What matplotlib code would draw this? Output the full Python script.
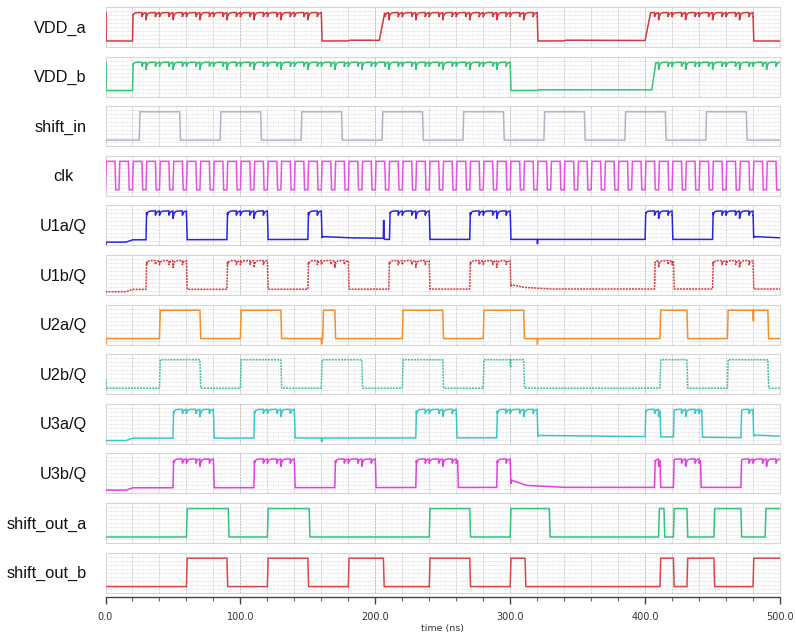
import numpy as np
import matplotlib
matplotlib.use("Agg")
import matplotlib.pyplot as plt

T_END = 500.0

labels = ["VDD_a", "VDD_b", "shift_in", "clk", "U1a/Q", "U1b/Q", "U2a/Q",
          "U2b/Q", "U3a/Q", "U3b/Q", "shift_out_a", "shift_out_b"]
colors = ["#d8373c", "#33c47a", "#aeb6c6", "#e552e0", "#2626e0", "#d8373c",
          "#f3902c", "#3cc48c", "#3ac8c6", "#e23fe0", "#33c47a", "#d8474a"]
dotted = [False, False, False, False, False, True, False, True, False, False, False, False]

# ---- transition times (ns) ----
vdd_a_rise = [20, 203, 400]
vdd_a_fall = [160, 320, 480]
vdd_b_rise = [20, 405]
vdd_b_fall = [300]
shift_in_rise = [25, 85, 145, 205, 265, 325, 385, 445]
shift_in_fall = [55, 115, 175, 235, 295, 355, 415, 475]
clk_rise = [0, 10, 20, 30, 40, 50, 60, 70, 80, 90, 100, 110, 120, 130, 140, 150,
            160, 170, 180, 190, 200, 210, 220, 230, 240, 250, 260, 270, 280, 290,
            300, 310, 320, 330, 340, 350, 360, 370, 380, 390, 400, 410, 420, 430,
            440, 450, 460, 470, 480, 490]
clk_fall = [7, 17, 27, 37, 47, 57, 67, 77, 87, 97, 107, 117, 127, 137, 147, 157,
            167, 177, 187, 197, 207, 217, 227, 237, 247, 257, 267, 277, 287, 297,
            307, 317, 327, 337, 347, 357, 367, 377, 387, 397, 407, 417, 427, 437,
            447, 457, 467, 477, 487, 497]
u1a_rise = [30, 90, 150, 210.5, 270, 400, 450]
u1a_fall = [60, 120, 160, 240, 300, 420, 480]
u1b_rise = [30, 90, 150, 210, 270, 407, 450]
u1b_fall = [60, 120, 180, 240, 300, 421, 480]
u2a_rise = [40, 100, 161, 220, 280, 411, 461]
u2a_fall = [70, 130, 170, 250, 310, 431, 491]
u2b_rise = [40, 100, 160, 220, 280, 411, 461]
u2b_fall = [70, 130, 190, 250, 310, 431, 491]
u3a_rise = [50, 110, 230, 290, 400, 421, 471]
u3a_fall = [80, 140, 260, 320, 411, 442, 480]
u3b_rise = [50, 110, 170, 230, 290, 407, 421, 471]
u3b_fall = [80, 140, 200, 261, 300, 411, 441]
out_a_rise = [60, 120, 240, 300, 410, 421, 451, 489]
out_a_fall = [91, 151, 270, 329, 414, 431, 471]
out_b_rise = [60, 120, 180, 240, 300, 411, 431, 480]
out_b_fall = [90, 150, 206, 270, 311, 421, 451]

# slow low-level drifts (time, level) and glitches (time, level)
u1a_low = [(0, 0.08), (15, 0.08), (20, 0.14), (160, 0.15), (161, 0.22), (180, 0.19), (206, 0.18),
           (207, 0.15), (480, 0.15), (481, 0.22), (500, 0.19)]
u1b_low = [(0, 0.08), (15, 0.08), (20, 0.14), (300, 0.15), (301, 0.26), (310, 0.19), (330, 0.15), (500, 0.15)]
u3a_low = [(0, 0.08), (15, 0.08), (20, 0.14), (320, 0.15), (321, 0.21), (400, 0.18), (480, 0.15),
           (481, 0.22), (500, 0.19)]
u3b_low = [(0, 0.08), (15, 0.08), (20, 0.14), (300, 0.15), (301, 0.33), (312, 0.2), (340, 0.15), (500, 0.15)]
vdd_a_low = [(0, 0.15), (180, 0.15), (181, 0.17), (320, 0.15), (340, 0.15), (341, 0.17), (480, 0.15), (500, 0.15)]
vdd_b_low = [(0, 0.15), (320, 0.15), (321, 0.17), (500, 0.17)]
vdd_a_spikes = [(0, 0.86)]
vdd_b_spikes = [(0, 0.86)]
u1a_spikes = [(0, 0.02), (206, 0.62), (320, 0.05)]
u2a_spikes = [(0, 0.02), (160, 0.02), (320, 0.02), (480, 0.6)]
u2b_spikes = [(0, 0.36), (300, 0.68)]
u3a_spikes = [(160, 0.06)]
vdd_a_ramp = [0.5, 4, 4]
vdd_b_ramp = [0.5, 3]

t = np.linspace(0, T_END, 20001)


def state(rise, fall, rise_w=None, fall_w=0.5):
    if rise_w is None:
        rise_w = [0.5] * len(rise)
    ev = sorted([(r, 1, w) for r, w in zip(rise, rise_w)] + [(f, 0, fall_w) for f in fall])
    cur = 0
    xs, ys = [0.0], [0.0]
    for tt, s, w in ev:
        xs += [tt, tt + w]
        ys += [cur, s]
        cur = s
    xs.append(T_END + 1)
    ys.append(cur)
    return np.interp(t, xs, ys)


def wave(rise, fall, low=None, hi=0.86, spikes=(), rise_w=None, dips=None, dip_depth=0.0):
    s = state(rise, fall, rise_w)
    if low is None:
        lo = np.full_like(t, 0.15)
    else:
        lo = np.interp(t, [p[0] for p in low], [p[1] for p in low])
    v = lo + s * (hi - lo)
    if dips is not None and dip_depth > 0:
        for k, d in enumerate(dips):
            m = (t >= d) & (t < d + 4.0) & (s > 0.99)
            depth = dip_depth * (1.7 if k % 4 == 2 else 1.0)
            v[m] -= depth * np.exp(-(t[m] - d) / 0.8)
    for ts, lv in spikes:
        m = (t >= ts) & (t <= ts + 0.4)
        v[m] = lv
    return v


clk_edges = sorted(clk_rise + clk_fall)
signals = [
    wave(vdd_a_rise, vdd_a_fall, vdd_a_low, spikes=vdd_a_spikes, rise_w=vdd_a_ramp, dips=clk_edges, dip_depth=0.11),
    wave(vdd_b_rise, vdd_b_fall, vdd_b_low, spikes=vdd_b_spikes, rise_w=vdd_b_ramp, dips=clk_edges, dip_depth=0.11),
    wave(shift_in_rise, shift_in_fall),
    wave(clk_rise, clk_fall),
    wave(u1a_rise, u1a_fall, u1a_low, spikes=u1a_spikes, dips=clk_edges, dip_depth=0.11),
    wave(u1b_rise, u1b_fall, u1b_low, dips=clk_edges, dip_depth=0.10),
    wave(u2a_rise, u2a_fall, spikes=u2a_spikes),
    wave(u2b_rise, u2b_fall, spikes=u2b_spikes),
    wave(u3a_rise, u3a_fall, u3a_low, spikes=u3a_spikes, dips=clk_edges, dip_depth=0.11),
    wave(u3b_rise, u3b_fall, u3b_low, dips=clk_edges, dip_depth=0.11),
    wave(out_a_rise, out_a_fall),
    wave(out_b_rise, out_b_fall),
]

W, H = 796, 638
fig = plt.figure(figsize=(W / 100, H / 100), dpi=100)
x0, x1 = 105.5, 780.0
top0, pitch, ph = 7.0, 49.6, 40.0

for i, (lab, col, v) in enumerate(zip(labels, colors, signals)):
    top = top0 + pitch * i
    ax = fig.add_axes([x0 / W, 1 - (top + ph) / H, (x1 - x0) / W, ph / H])
    ax.set_xlim(0, T_END)
    ax.set_ylim(0, 1)
    for yy in np.linspace(0, 1, 11)[1:-1]:
        ax.axhline(yy, color="#d9d9d9", lw=0.6, ls=(0, (1, 1)), zorder=0)
    for xx in np.arange(4, 500, 4):
        ax.axvline(xx, color="#ececec", lw=0.5, ls=(0, (1, 1.5)), zorder=0)
    for xx in np.arange(20, 500, 20):
        c = "#bdbdbd" if xx % 100 == 0 else "#d3d3d3"
        ax.axvline(xx, color=c, lw=0.7, ls=(0, (2, 1)), zorder=0)
    ls = (0, (1.3, 0.7)) if dotted[i] else "-"
    ax.plot(t, v, color=col, lw=1.1, ls=ls, zorder=3, solid_joinstyle="miter")
    ax.set_xticks([])
    ax.set_yticks([])
    for sp in ax.spines.values():
        sp.set_color("#d6d6d6")
        sp.set_linewidth(0.8)
    ax.spines["top"].set_linestyle((0, (1, 1)))
    ax.spines["bottom"].set_linestyle((0, (1, 1)))
    ymid = 1 - (top + ph / 2 + 1) / H
    if lab == "clk":
        fig.text(63 / W, ymid, lab, ha="center", va="center", fontsize=11.8,
                 family="Liberation Sans", color="#111111")
    else:
        fig.text(87 / W, ymid, lab, ha="right", va="center", fontsize=11.8,
                 family="Liberation Sans", color="#111111")

# bottom time axis
axy = 597.0
axb = fig.add_axes([x0 / W, 1 - axy / H, (x1 - x0) / W, 0.001])
axb.set_xlim(0, T_END)
axb.set_yticks([])
for k in ["top", "left", "right"]:
    axb.spines[k].set_visible(False)
axb.spines["bottom"].set_color("#444444")
axb.spines["bottom"].set_linewidth(1.0)
axb.set_xticks([0, 100, 200, 300, 400, 500])
axb.set_xticklabels(["0.0", "100.0", "200.0", "300.0", "400.0", "500.0"])
axb.set_xticks(np.arange(0, 501, 20), minor=True)
axb.tick_params(axis="x", which="major", direction="out", length=5, width=1.0,
                color="#444444", labelsize=7, labelcolor="#333333", pad=6)
axb.tick_params(axis="x", which="minor", direction="out", length=3, width=0.8, color="#666666")
fig.text((x0 + x1) / 2 / W, 1 - 629 / H, "time (ns)", ha="center", va="center",
         fontsize=6.8, color="#333333")

fig.savefig("out.png", dpi=100, facecolor="white")
